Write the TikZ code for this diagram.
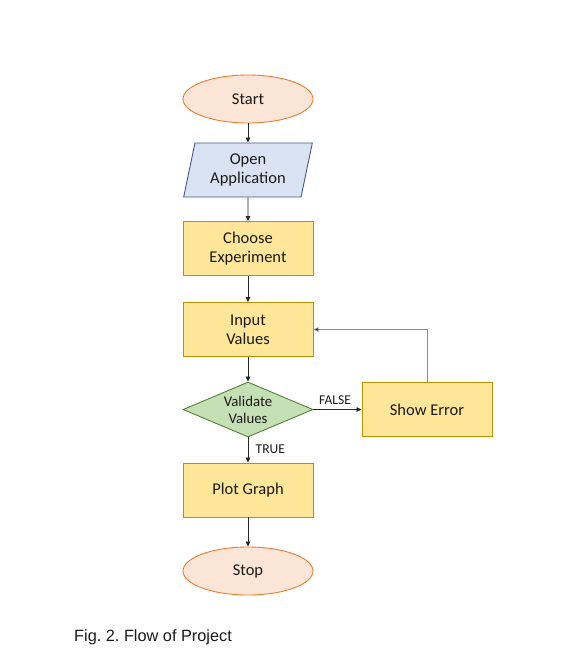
\documentclass[tikz,border=0pt]{standalone}
\usepackage{fontspec}
\setmainfont{Carlito}
\newfontfamily\captionfont{Liberation Sans}
\usetikzlibrary{shapes.geometric,arrows.meta}

\definecolor{termfill}{HTML}{FBE5D6}
\definecolor{termline}{HTML}{ED7D31}
\definecolor{iofill}{HTML}{DAE3F3}
\definecolor{ioline}{HTML}{41598C}
\definecolor{procfill}{HTML}{FFE699}
\definecolor{procline}{HTML}{BF9000}
\definecolor{decfill}{HTML}{C5E0B4}
\definecolor{decline}{HTML}{548235}
\definecolor{txt}{HTML}{1A1A1A}

\begin{document}
\frenchspacing
\begin{tikzpicture}[x=1pt,y=-1pt,
  every node/.style={text=txt},
  boxfont/.style={font=\fontsize{16.5}{19}\selectfont},
  terminal/.style={ellipse, draw=termline, fill=termfill, line width=0.9pt,
    minimum width=130, minimum height=48, inner sep=0, boxfont},
  iobox/.style={trapezium, trapezium left angle=76, trapezium right angle=104,
    trapezium stretches=true, draw=ioline, fill=iofill, line width=0.9pt,
    minimum width=130, minimum height=54, inner sep=0, align=center, boxfont},
  process/.style={rectangle, draw=procline, fill=procfill, line width=0.9pt,
    minimum width=130, minimum height=54, inner sep=0, align=center, boxfont},
  decision/.style={diamond, draw=decline, fill=decfill, line width=0.9pt,
    minimum width=130, minimum height=55, inner sep=0},
  flow/.style={draw=black!85, line width=0.7pt,
    -{Triangle[length=5pt,width=4.5pt]}},
  loopline/.style={draw=black!45, line width=0.7pt,
    -{Triangle[length=5pt,width=4.5pt,fill=black!85]}},
  tag/.style={font=\fontsize{13.5}{15}\selectfont}
]
\useasboundingbox (0,0) rectangle (567,672);

% flowchart blocks
\node[terminal] (start) at (248,99) {Start};
\node[iobox] (open) at (248,170) {Open\\Application};
\node[process] (choose) at (248,248.5) {Choose\\Experiment};
\node[process] (input) at (248,329.5) {Input\\Values};
\node[decision] (valid) at (248,409.5) {};
\node[align=center, font=\fontsize{14.8}{17}\selectfont] (validtext) at (valid) {Validate\\Values};
\node[process] (error) at (427,409.5) {Show Error};
\node[process] (plot) at (248,490) {Plot Graph};
\node[terminal] (stop) at (248,571) {Stop};

% main flow
\draw[flow] (start) -- (open);
\draw[flow] (open) -- (choose);
\draw[flow] (choose) -- (input);
\draw[flow] (input) -- (valid);
\draw[flow] (valid) -- node[tag, above, pos=0.45, yshift=1] {FALSE} (error);
\draw[flow] (valid) -- node[tag, right, pos=0.45, xshift=4] {TRUE} (plot);
\draw[flow] (plot) -- (stop);

% retry loop back to the input step
\draw[loopline] (error.north) |- (input.east);

% caption
\node[anchor=base west, inner sep=0, font=\captionfont\fontsize{16.3}{20}\selectfont, text=black!90] (cap) at (74,641) {Fig. 2. Flow of Project};
\end{tikzpicture}
\end{document}
